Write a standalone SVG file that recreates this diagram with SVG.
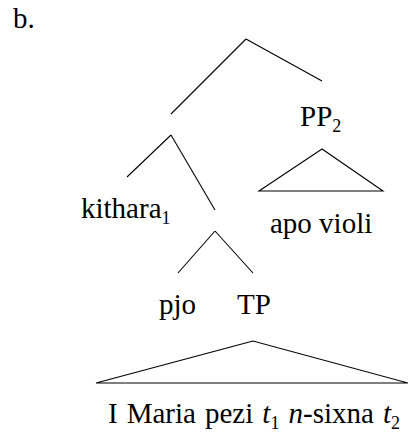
<svg xmlns="http://www.w3.org/2000/svg" width="408" height="437" viewBox="0 0 408 437">
<style>
text{font-family:'Liberation Serif','Tinos','Times New Roman',serif;font-size:29px;fill:#000}
.sub{font-size:18px}
.e{stroke:#000;stroke-width:1.1;fill:none}
</style>
<rect width="408" height="437" fill="#fff"/>
<text x="13" y="28">b.</text>
<g id="edges">
<line class="e" x1="246" y1="39" x2="171" y2="114"/>
<line class="e" x1="246" y1="39" x2="322" y2="81"/>
<line class="e" x1="171" y1="135" x2="127" y2="177"/>
<line class="e" x1="171" y1="135" x2="215" y2="210"/>
<line class="e" x1="215" y1="231" x2="178" y2="273"/>
<line class="e" x1="215" y1="231" x2="253" y2="273"/>
<polygon class="e" points="322,149 259,191 383,191"/>
<polygon class="e" points="253,341 96,383 408,383"/>
</g>
<g id="pp2"><text x="300" y="126">PP<tspan class="sub" dy="6">2</tspan></text></g>
<g id="apo"><text x="270" y="233">apo violi</text></g>
<g id="kithara"><text x="81" y="218">kithara<tspan class="sub" dy="6">1</tspan></text></g>
<g id="pjo"><text x="159" y="314">pjo</text></g>
<g id="tp"><text x="237" y="314">TP</text></g>
<g id="tpcontent"><text x="108" y="423" word-spacing="1.8">I Maria pezi <tspan font-style="italic">t</tspan><tspan class="sub" dy="6">1</tspan><tspan dy="-6"> </tspan><tspan font-style="italic">n</tspan>-sixna <tspan font-style="italic">t</tspan><tspan class="sub" dy="6">2</tspan></text></g>
</svg>
